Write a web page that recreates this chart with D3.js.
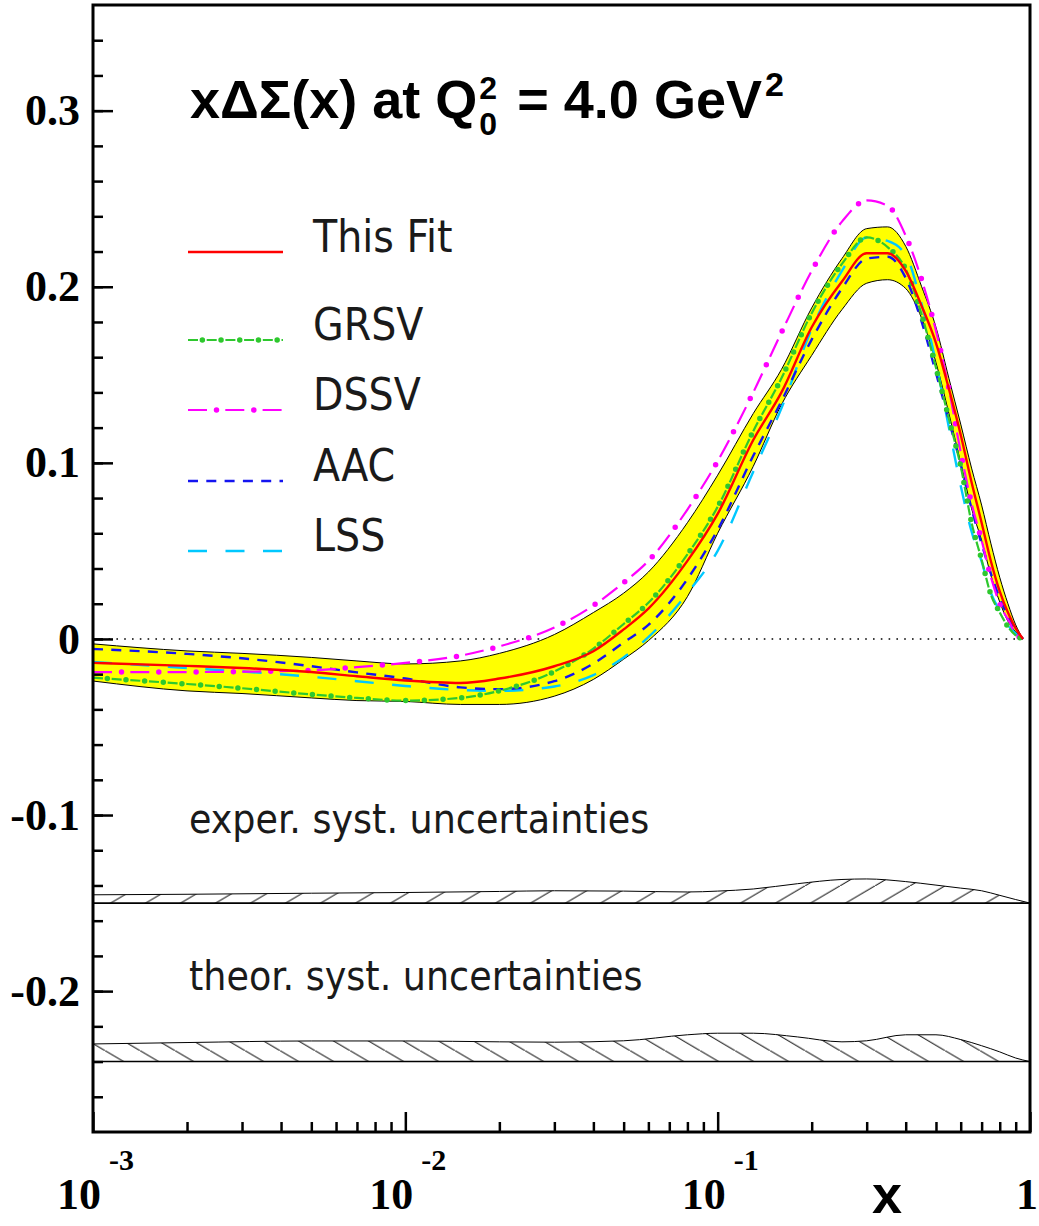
<!DOCTYPE html>
<html>
<head>
<meta charset="utf-8">
<script src="https://cdn.jsdelivr.net/npm/d3@7/dist/d3.min.js"></script>
<style>
  body { margin: 0; background: #fff; }
  svg { display: block; }
</style>
</head>
<body>
<svg id="chart" width="1039" height="1226"></svg>
<script>
// x points of the curves (everything is back at zero by x = 0.95)
const xGrid = [0.001,0.002,0.003,0.005,0.007,0.01,0.015,0.02,0.03,0.04,0.05,0.06,0.08,0.1,0.13,0.16,0.2,0.25,0.3,0.35,0.4,0.45,0.5,0.55,0.6,0.65,0.7,0.75,0.8,0.85,0.9,0.95]

const thisFit = [-0.0136,-0.0153,-0.0165,-0.0188,-0.0212,-0.0236,-0.025,-0.0225,-0.0155,-0.007,0.0054,0.0172,0.0443,0.071,0.113,0.14,0.177,0.203,0.219,0.219,0.209,0.189,0.168,0.142,0.116,0.089,0.066,0.044,0.027,0.015,0.006,0]
const bandHi = [-0.0028,-0.0068,-0.0082,-0.0105,-0.0125,-0.0142,-0.0125,-0.0082,0.0025,0.015,0.026,0.038,0.066,0.093,0.128,0.153,0.188,0.216,0.233,0.234,0.223,0.2,0.177,0.148,0.122,0.097,0.076,0.054,0.035,0.02,0.008,0]
const bandLo = [-0.0239,-0.0295,-0.031,-0.0335,-0.035,-0.0355,-0.0372,-0.0372,-0.0325,-0.023,-0.0115,-0.001,0.024,0.06,0.098,0.133,0.161,0.187,0.202,0.204,0.199,0.182,0.157,0.128,0.1,0.074,0.056,0.036,0.021,0.01,0.004,0]
const grsv = [-0.022,-0.0256,-0.028,-0.0315,-0.0335,-0.035,-0.0335,-0.0295,-0.0185,-0.0055,0.0085,0.0205,0.048,0.075,0.118,0.148,0.185,0.213,0.228,0.2225,0.21,0.184,0.154,0.125,0.098,0.066,0.045,0.025,0.015,0.007,0.002,0]
const dssv = [-0.0188,-0.0188,-0.0186,-0.0178,-0.016,-0.0136,-0.0095,-0.0042,0.0065,0.019,0.032,0.0443,0.0735,0.101,0.14,0.174,0.209,0.237,0.249,0.246,0.229,0.204,0.175,0.142,0.106,0.077,0.056,0.035,0.02,0.011,0.003,0]
const aac = [-0.0057,-0.0085,-0.011,-0.0155,-0.019,-0.0225,-0.0275,-0.0285,-0.024,-0.014,-0.002,0.008,0.034,0.062,0.104,0.135,0.17,0.199,0.216,0.217,0.205,0.18,0.151,0.124,0.099,0.074,0.054,0.037,0.023,0.013,0.005,0]
const lss = [-0.013,-0.0165,-0.0185,-0.0215,-0.024,-0.0267,-0.029,-0.0295,-0.027,-0.0205,-0.0105,0.001,0.026,0.05,0.095,0.131,0.176,0.209,0.228,0.226,0.218,0.19,0.157,0.12,0.087,0.061,0.044,0.026,0.016,0.008,0.003,0]

// systematic uncertainty bands: height above their base line
const sysX = [0.001,0.002,0.005,0.01,0.02,0.03,0.05,0.08,0.1,0.13,0.18,0.25,0.3,0.4,0.5,0.6,0.7,0.8,0.9,1.0]
const experSys = [0.0047,0.005,0.0056,0.006,0.0066,0.007,0.0068,0.0063,0.0068,0.008,0.011,0.0134,0.0137,0.0122,0.0102,0.0085,0.007,0.0044,0.002,0]
const theorSys = [0.01,0.0108,0.0117,0.0117,0.0112,0.011,0.0118,0.0152,0.0161,0.0161,0.014,0.0112,0.0118,0.0152,0.0152,0.0125,0.009,0.0055,0.002,0]
const experBase = -0.15
const theorBase = -0.24

// axes
const yMajor = [-0.2, -0.1, 0, 0.1, 0.2, 0.3]
const xMajor = [1e-3, 1e-2, 1e-1, 1]
const xExpo = ["-3", "-2", "-1", ""]

const legendNames = ["This Fit", "GRSV", "DSSV", "AAC", "LSS"]

const styles = {
  "This Fit": {color: "#ff0000", w: 2.4, dash: null},
  "GRSV": {color: "#2ec82e", w: 2.2, dash: "10,8.7", dotP: 18.7, dotAt: 14.35},
  "DSSV": {color: "#ff00ff", w: 2.2, dash: "19,18.3", dotP: 37.3, dotAt: 28.5},
  "AAC": {color: "#1414f0", w: 2.4, dash: "10,8.3"},
  "LSS": {color: "#00c8ff", w: 2.4, dash: "19,18.5"}
}
const seriesData = {"This Fit": thisFit, "GRSV": grsv, "DSSV": dssv, "AAC": aac, "LSS": lss}

const svg = d3.select("#chart")
const x = d3.scaleLog().domain([1e-3, 1]).range([93, 1030])
const y = d3.scaleLinear().domain([-0.28, 0.36]).range([1132, 5])

// hatch patterns
const defs = svg.append("defs")
function hatch(id, w, h, up) {
  const p = defs.append("pattern").attr("id", id)
    .attr("patternUnits", "userSpaceOnUse").attr("width", w).attr("height", h)
  p.append("line")
    .attr("x1", -w * 0.1).attr("y1", up ? h * 1.1 : -h * 0.1)
    .attr("x2", w * 1.1).attr("y2", up ? -h * 0.1 : h * 1.1)
    .attr("stroke", "#000").attr("stroke-width", 1)
}
hatch("hExp", 35, 20.6, true)
hatch("hTh", 35, 20.6, false)

const plot = svg.append("g")

// zero line
plot.append("line")
  .attr("x1", x(1e-3)).attr("x2", x(1)).attr("y1", y(0)).attr("y2", y(0))
  .attr("stroke", "#000").attr("stroke-width", 1.6).attr("stroke-dasharray", "1.6,6.2")

// yellow error band
const band = xGrid.map((v, i) => ({x: v, lo: bandLo[i], hi: bandHi[i]}))
plot.append("path").datum(band)
  .attr("d", d3.area().x(d => x(d.x)).y0(d => y(d.lo)).y1(d => y(d.hi)).curve(d3.curveMonotoneX))
  .attr("fill", "#ffff00").attr("stroke", "#000").attr("stroke-width", 1)

// curves
const line = d3.line().x(d => x(d[0])).y(d => y(d[1])).curve(d3.curveMonotoneX)
function stroke(sel, st) {
  sel.attr("fill", "none").attr("stroke", st.color).attr("stroke-width", st.w)
  if (st.dash) sel.attr("stroke-dasharray", st.dash)
}
function dots(sel, st) {
  sel.attr("fill", "none").attr("stroke", st.color).attr("stroke-width", 5.5)
    .attr("stroke-linecap", "round")
    .attr("stroke-dasharray", `0,${st.dotP}`).attr("stroke-dashoffset", st.dotP - st.dotAt)
}
;["LSS", "AAC", "DSSV", "GRSV", "This Fit"].forEach(name => {
  const st = styles[name]
  const pts = xGrid.map((v, i) => [v, seriesData[name][i]])
  plot.append("path").datum(pts).attr("d", line).call(stroke, st)
  if (st.dotP) plot.append("path").datum(pts).attr("d", line).call(dots, st)
})

// systematic bands
function sysBand(vals, base, pat) {
  const pts = sysX.map((v, i) => [v, base + vals[i]])
  plot.append("path").datum(pts)
    .attr("d", d3.area().x(d => x(d[0])).y0(y(base)).y1(d => y(d[1])).curve(d3.curveMonotoneX))
    .attr("fill", `url(#${pat})`)
  plot.append("path").datum(pts).attr("d", line).attr("fill", "none").attr("stroke", "#000").attr("stroke-width", 1)
  plot.append("line").attr("x1", x(1e-3)).attr("x2", x(1)).attr("y1", y(base)).attr("y2", y(base))
    .attr("stroke", "#000").attr("stroke-width", 1.6)
}
sysBand(experSys, experBase, "hExp")
sysBand(theorSys, theorBase, "hTh")

const labFont = "'DejaVu Sans Condensed', 'DejaVu Sans', sans-serif"
svg.append("text").attr("x", 189).attr("y", 833)
  .attr("font-family", labFont).attr("font-stretch", "condensed").attr("font-size", 40.6).attr("fill", "#1a1a1a")
  .text("exper. syst. uncertainties")
svg.append("text").attr("x", 189).attr("y", 990)
  .attr("font-family", labFont).attr("font-stretch", "condensed").attr("font-size", 40.6).attr("fill", "#1a1a1a")
  .text("theor. syst. uncertainties")

// legend
const legY = [252, 340, 410, 481, 551]
legendNames.forEach((name, i) => {
  const st = styles[name]
  const d = `M188,${legY[i]}H283`
  svg.append("path").attr("d", d).call(stroke, st)
  if (st.dotP) svg.append("path").attr("d", d).call(dots, st)
  svg.append("text").attr("x", 313).attr("y", legY[i])
    .attr("font-family", labFont).attr("font-stretch", "condensed").attr("font-size", 44).attr("fill", "#1a1a1a")
    .text(name)
})

// title, Q with stacked sub/superscript
const title = svg.append("g").attr("font-family", "'Liberation Sans', Arial, sans-serif").attr("font-weight", "bold")
const t1 = title.append("text").attr("x", 190).attr("y", 118).attr("font-size", 54).text("x\u0394\u03a3(x) at Q")
const w1 = t1.node().getComputedTextLength()
title.append("text").attr("x", 190 + w1 + 2).attr("y", 99).attr("font-size", 32).text("2")
title.append("text").attr("x", 190 + w1 + 2).attr("y", 135).attr("font-size", 32).text("0")
const t2 = title.append("text").attr("x", 190 + w1 + 40).attr("y", 118).attr("font-size", 54).text("= 4.0 GeV")
const w2 = t2.node().getComputedTextLength()
title.append("text").attr("x", 190 + w1 + 40 + w2 + 3).attr("y", 96).attr("font-size", 34).text("2")

// axes
const axFont = "'Liberation Serif', 'Times New Roman', serif"
const yAx = svg.append("g").attr("transform", `translate(${x(1e-3)},0)`)
  .call(d3.axisLeft(y).tickValues(yMajor).tickSize(-20).tickPadding(13).tickSizeOuter(0)
    .tickFormat(d => d === 0 ? "0" : d.toFixed(1)))
svg.append("g").attr("transform", `translate(${x(1e-3)},0)`)
  .call(d3.axisLeft(y).tickValues(d3.range(-26, 36, 2).map(v => v / 100)).tickSize(-10).tickFormat(""))
svg.append("g").attr("transform", `translate(0,${y(-0.28)})`)
  .call(d3.axisBottom(x).tickValues(xMajor).tickSize(-20).tickFormat(""))
const minors = []
xMajor.slice(0, 3).forEach(m => d3.range(2, 10).forEach(k => minors.push(m * k)))
svg.append("g").attr("transform", `translate(0,${y(-0.28)})`)
  .call(d3.axisBottom(x).tickValues(minors).tickSize(-10).tickFormat(""))
svg.selectAll(".domain").remove()
svg.selectAll(".tick line").attr("stroke-width", 2.5)
yAx.selectAll("text").attr("font-family", axFont).attr("font-weight", "bold").attr("font-size", 44).attr("fill", "#000")

xMajor.forEach((m, i) => {
  const px = x(m)
  if (xExpo[i]) {
    svg.append("text").attr("x", px + 8).attr("y", 1209).attr("text-anchor", "end")
      .attr("font-family", axFont).attr("font-weight", "bold").attr("font-size", 44).text("10")
    svg.append("text").attr("x", px + 16).attr("y", 1170)
      .attr("font-family", axFont).attr("font-weight", "bold").attr("font-size", 30).text(xExpo[i])
  } else {
    svg.append("text").attr("x", px - 3).attr("y", 1209).attr("text-anchor", "middle")
      .attr("font-family", axFont).attr("font-weight", "bold").attr("font-size", 44).text("1")
  }
})
svg.append("text").attr("x", 887).attr("y", 1213).attr("text-anchor", "middle")
  .attr("font-family", "'Liberation Sans', Arial, sans-serif").attr("font-weight", "bold").attr("font-size", 54).text("x")

// frame
svg.append("rect").attr("x", x(1e-3)).attr("y", y(0.36)).attr("width", x(1) - x(1e-3)).attr("height", y(-0.28) - y(0.36))
  .attr("fill", "none").attr("stroke", "#000").attr("stroke-width", 3)
</script>
</body>
</html>
